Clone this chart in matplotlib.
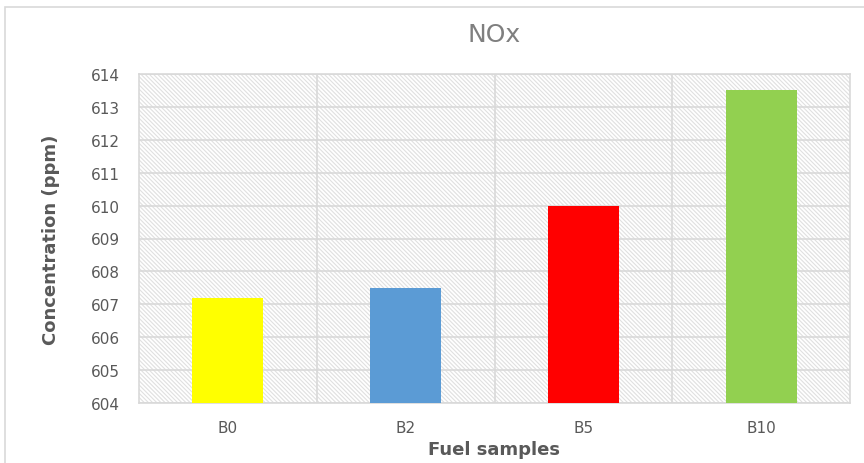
import matplotlib.pyplot as plt
from matplotlib.patches import Rectangle

samples = ['B0', 'B2', 'B5', 'B10']
nox_ppm = [607.2, 607.5, 610.0, 613.5]
bar_colors = ['#ffff00', '#5b9bd5', '#ff0000', '#92d050']
y_ticks = list(range(604, 615))

plt.rcParams['hatch.color'] = '#e0e0e0'
plt.rcParams['hatch.linewidth'] = 0.8

fig = plt.figure(figsize=(8.64, 4.64), dpi=100)
ax = fig.add_axes([139 / 864, 60 / 464, 711 / 864, 329 / 464])

# frame around the whole chart
fig.patches.append(Rectangle((5 / 864, -0.01), 1.0, 1 - 8 / 464 + 0.01,
                             transform=fig.transFigure, fill=False,
                             edgecolor='#d9d9d9', linewidth=1.2))

x = range(len(samples))
ax.set_xlim(-0.5, len(samples) - 0.5)
ax.set_ylim(604, 614)

# hatched plot area background
ax.add_patch(Rectangle((0, 0), 1, 1, transform=ax.transAxes, facecolor='white',
                       edgecolor='#e0e0e0', hatch='\\' * 8, linewidth=0,
                       zorder=0))

ax.bar(x, [v - 604 for v in nox_ppm], bottom=604, width=0.4,
       color=bar_colors, zorder=3)

ax.set_yticks(y_ticks)
ax.set_xticks(list(x))
ax.set_xticklabels(samples)
ax.set_xticks([i + 0.5 for i in range(len(samples) - 1)], minor=True)
ax.grid(True, axis='y', which='major', color='#d9d9d9', linewidth=1.2, zorder=1)
ax.grid(True, axis='x', which='minor', color='#d9d9d9', linewidth=1.2, zorder=1)
ax.tick_params(axis='both', which='both', length=0, labelsize=11,
               labelcolor='#595959')
ax.tick_params(axis='x', pad=12)
ax.tick_params(axis='y', pad=14)
for s in ax.spines.values():
    s.set_color('#d9d9d9')
    s.set_linewidth(1.2)

ax.set_title('NOx', fontsize=18, color='#7f7f7f', pad=24)
ax.set_xlabel('Fuel samples', fontsize=13, fontweight='bold', color='#595959',
              labelpad=4)
ax.set_ylabel('Concentration (ppm)', fontsize=13, fontweight='bold',
              color='#595959', labelpad=22)

fig.savefig('out.png', dpi=100)
